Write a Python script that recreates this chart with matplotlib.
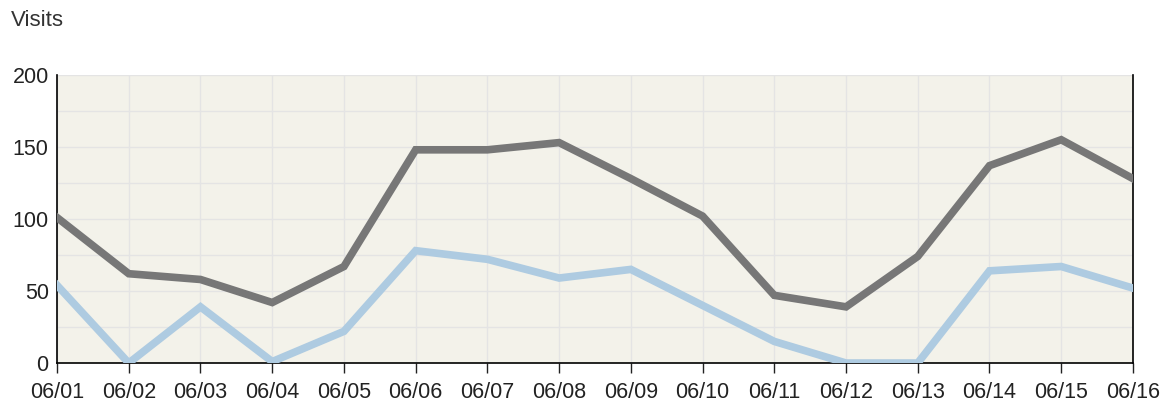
import matplotlib
matplotlib.use('Agg')
import matplotlib.pyplot as plt
from matplotlib.ticker import MultipleLocator

dates = ['06/01', '06/02', '06/03', '06/04', '06/05', '06/06', '06/07', '06/08',
         '06/09', '06/10', '06/11', '06/12', '06/13', '06/14', '06/15', '06/16']
visits_total = [101, 62, 58, 42, 67, 148, 148, 153, 128, 102, 47, 39, 74, 137, 155, 128]
visits_new = [54, 0, 39, 1, 22, 78, 72, 59, 65, 40, 15, 0, 0, 64, 67, 52]

plt.rcParams['font.family'] = ['Liberation Sans', 'DejaVu Sans']

fig = plt.figure(figsize=(11.71, 4.07), dpi=100)
ax = fig.add_axes([0.0487, 0.108, 0.9188, 0.708])
ax.set_facecolor('#f3f2ea')

x = list(range(len(dates)))
ax.plot(x, visits_new, color='#aecbe1', linewidth=5.5, solid_joinstyle='miter', zorder=3)
ax.plot(x, visits_total, color='#777777', linewidth=5.5, solid_joinstyle='miter', zorder=4)

ax.set_xlim(0, len(dates) - 1)
ax.set_ylim(0, 200)
ax.set_xticks(x)
ax.set_xticklabels(dates)
ax.set_yticks([0, 50, 100, 150, 200])
ax.yaxis.set_minor_locator(MultipleLocator(25))

ax.grid(True, which='both', color='#e4e4e4', linewidth=1, zorder=0)
ax.set_axisbelow(True)

ax.spines['top'].set_visible(False)
for side in ['left', 'bottom', 'right']:
    ax.spines[side].set_color('#000000')
    ax.spines[side].set_linewidth(1.2)

ax.tick_params(axis='x', length=7, width=1, labelsize=15.5, pad=7, colors='#222222')
ax.tick_params(axis='y', which='major', length=0, labelsize=15.5, pad=6, colors='#222222')
ax.tick_params(axis='y', which='minor', length=0)

fig.text(0.009, 0.95, 'Visits', fontsize=16, color='#333333', va='center', ha='left')

fig.savefig('out.png', dpi=100)
